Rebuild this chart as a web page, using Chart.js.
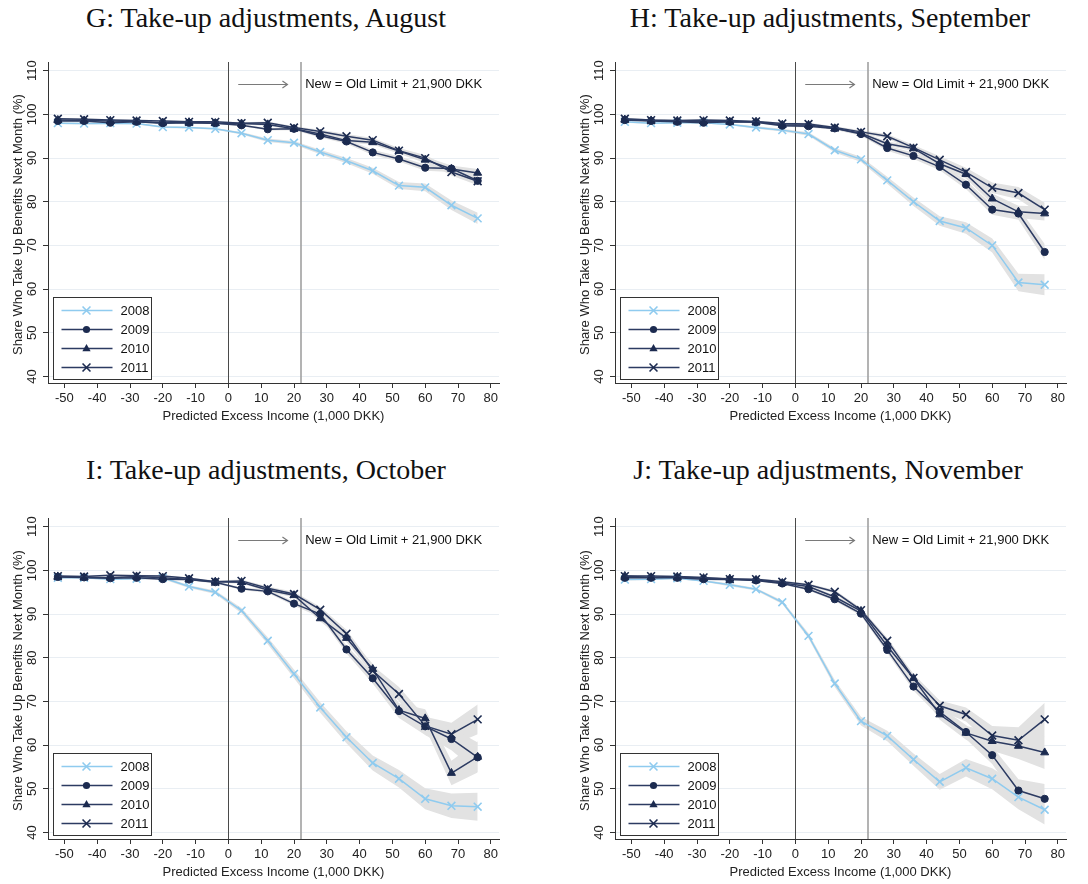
<!DOCTYPE html>
<html>
<head>
<meta charset="utf-8">
<script src="https://cdn.jsdelivr.net/npm/chart.js@4.4.1/dist/chart.umd.min.js"></script>
<style>
  body { margin: 0; background: #fff; width: 1088px; height: 884px; position: relative; overflow: hidden; }
  .panel { position: absolute; width: 544px; height: 430px; }
  .title { position: absolute; font-family: "Liberation Serif", "Times New Roman", serif; font-size: 28px; color: #111;
           white-space: nowrap; transform: translateX(-50%); line-height: 32px; }
</style>
</head>
<body>
<div class="title" style="left:266px;top:2px">G: Take-up adjustments, August</div>
<div class="title" style="left:830px;top:2px">H: Take-up adjustments, September</div>
<div class="title" style="left:266px;top:454px">I: Take-up adjustments, October</div>
<div class="title" style="left:828px;top:454px">J: Take-up adjustments, November</div>

<div class="panel" style="left:0;top:0"><canvas id="chartG" width="544" height="430"></canvas></div>
<div class="panel" style="left:544px;top:0"><canvas id="chartH" width="544" height="430"></canvas></div>
<div class="panel" style="left:0;top:456px"><canvas id="chartI" width="544" height="430"></canvas></div>
<div class="panel" style="left:544px;top:456px"><canvas id="chartJ" width="544" height="430"></canvas></div>

<script>
// ===== Data =====
const xVals  = [-52, -44, -36, -28, -20, -12, -4, 4, 12, 20, 28, 36, 44, 52, 60, 68, 76];
const xTicks = [-50, -40, -30, -20, -10, 0, 10, 20, 30, 40, 50, 60, 70, 80];
const yTicks = [40, 50, 60, 70, 80, 90, 100, 110];
const years  = ['2008', '2009', '2010', '2011'];

// G: August
const g2008 = [98.0, 97.9, 98.0, 97.9, 97.1, 97.0, 96.7, 95.7, 94.1, 93.5, 91.4, 89.4, 87.1, 83.7, 83.3, 79.2, 76.2];
const g2009 = [98.5, 98.5, 98.1, 98.3, 98.0, 98.1, 98.0, 97.5, 96.6, 96.7, 95.1, 93.8, 91.3, 89.8, 87.8, 87.6, 84.8];
const g2010 = [98.7, 98.6, 98.5, 98.4, 98.1, 98.2, 98.0, 97.9, 97.7, 96.7, 95.5, 94.0, 93.6, 91.6, 89.6, 87.5, 86.6];
const g2011 = [99.0, 98.9, 98.7, 98.6, 98.5, 98.3, 98.3, 98.0, 98.1, 97.0, 96.1, 95.0, 94.1, 91.7, 90.0, 86.8, 84.7];
// H: September
const h2008 = [98.3, 98.0, 98.1, 98.1, 97.7, 97.0, 96.4, 95.5, 91.8, 89.7, 84.9, 80.0, 75.6, 74.0, 70.0, 61.5, 61.0];
const h2009 = [98.7, 98.5, 98.3, 98.1, 98.3, 98.2, 97.4, 97.3, 96.8, 95.5, 92.3, 90.5, 88.0, 83.9, 78.2, 77.3, 68.5];
const h2010 = [98.8, 98.6, 98.5, 98.4, 98.3, 98.3, 97.6, 97.6, 96.8, 95.7, 93.3, 92.2, 88.7, 86.3, 80.7, 77.7, 77.3];
const h2011 = [99.0, 98.7, 98.6, 98.7, 98.6, 98.4, 97.9, 97.8, 97.0, 96.0, 95.0, 92.4, 89.6, 86.8, 83.2, 82.0, 78.2];
// I: October
const i2008 = [98.3, 98.3, 98.0, 98.1, 98.3, 96.3, 95.0, 90.8, 83.9, 76.3, 68.6, 61.8, 55.9, 52.3, 47.7, 46.1, 45.9];
const i2009 = [98.5, 98.4, 98.2, 98.3, 98.0, 97.9, 97.3, 95.8, 95.2, 92.4, 90.0, 81.9, 75.3, 67.8, 64.3, 61.4, 57.2];
const i2010 = [98.6, 98.4, 98.3, 98.6, 98.3, 97.9, 97.4, 97.3, 95.5, 94.3, 89.0, 84.5, 77.4, 68.0, 66.1, 53.6, 57.3];
const i2011 = [98.7, 98.6, 98.9, 98.8, 98.7, 98.2, 97.4, 97.6, 95.9, 94.6, 91.0, 85.5, 77.0, 71.7, 64.4, 62.5, 65.9];
// J: November
const j2008 = [97.9, 98.0, 98.2, 97.6, 96.7, 95.7, 92.7, 85.0, 74.1, 65.5, 62.1, 56.7, 51.6, 54.8, 52.3, 48.1, 45.2];
const j2009 = [98.3, 98.3, 98.3, 98.0, 97.9, 97.7, 97.0, 95.7, 93.4, 90.1, 81.8, 73.4, 67.6, 63.0, 57.7, 49.6, 47.7];
const j2010 = [98.7, 98.4, 98.5, 98.2, 98.1, 97.8, 97.1, 96.3, 93.9, 90.7, 82.7, 75.3, 67.0, 62.8, 60.9, 59.8, 58.3];
const j2011 = [98.7, 98.7, 98.6, 98.4, 98.0, 98.0, 97.4, 96.7, 95.1, 90.9, 83.9, 75.4, 69.0, 67.0, 62.2, 61.1, 65.9];

// confidence band half-widths
const ciG2008 = [0.2, 0.2, 0.2, 0.2, 0.2, 0.2, 0.2, 0.3, 0.4, 0.4, 0.5, 0.6, 0.7, 0.8, 0.9, 1.1, 1.3];
const ciG2009 = [0.2, 0.2, 0.2, 0.2, 0.2, 0.2, 0.2, 0.2, 0.3, 0.3, 0.4, 0.5, 0.6, 0.6, 0.7, 0.8, 0.9];
const ciG2010 = [0.2, 0.2, 0.2, 0.2, 0.2, 0.2, 0.2, 0.2, 0.3, 0.3, 0.4, 0.5, 0.5, 0.6, 0.7, 0.8, 0.9];
const ciG2011 = [0.2, 0.2, 0.2, 0.2, 0.2, 0.2, 0.2, 0.2, 0.3, 0.3, 0.4, 0.5, 0.5, 0.6, 0.7, 0.8, 0.9];
const ciH2008 = [0.2, 0.2, 0.2, 0.2, 0.2, 0.3, 0.3, 0.4, 0.5, 0.6, 0.8, 1.0, 1.1, 1.3, 1.6, 2.0, 2.4];
const ciH2009 = [0.2, 0.2, 0.2, 0.2, 0.2, 0.2, 0.2, 0.3, 0.3, 0.4, 0.6, 0.7, 0.8, 1.0, 1.2, 1.4, 1.8];
const ciH2010 = [0.2, 0.2, 0.2, 0.2, 0.2, 0.2, 0.2, 0.3, 0.3, 0.4, 0.5, 0.6, 0.8, 1.0, 1.2, 1.4, 1.6];
const ciH2011 = [0.2, 0.2, 0.2, 0.2, 0.2, 0.2, 0.2, 0.3, 0.3, 0.4, 0.5, 0.6, 0.8, 1.0, 1.2, 1.4, 1.6];
const ciI2008 = [0.2, 0.2, 0.2, 0.2, 0.3, 0.3, 0.4, 0.6, 0.8, 1.0, 1.2, 1.4, 1.7, 2.0, 2.4, 2.8, 3.2];
const ciI2009 = [0.2, 0.2, 0.2, 0.2, 0.2, 0.2, 0.3, 0.3, 0.4, 0.5, 0.7, 0.9, 1.2, 1.6, 2.0, 2.6, 3.4];
const ciI2010 = [0.2, 0.2, 0.2, 0.2, 0.2, 0.2, 0.3, 0.3, 0.4, 0.5, 0.7, 0.9, 1.2, 1.6, 2.1, 2.8, 3.6];
const ciI2011 = [0.2, 0.2, 0.2, 0.2, 0.2, 0.2, 0.3, 0.3, 0.4, 0.5, 0.7, 0.9, 1.2, 1.6, 2.1, 2.6, 3.4];
const ciJ2008 = [0.2, 0.2, 0.2, 0.2, 0.3, 0.3, 0.4, 0.6, 0.8, 1.0, 1.2, 1.4, 1.8, 2.0, 2.4, 2.8, 3.4];
const ciJ2009 = [0.2, 0.2, 0.2, 0.2, 0.2, 0.2, 0.3, 0.3, 0.4, 0.5, 0.7, 0.9, 1.2, 1.6, 2.0, 2.6, 3.4];
const ciJ2010 = [0.2, 0.2, 0.2, 0.2, 0.2, 0.2, 0.3, 0.3, 0.4, 0.5, 0.7, 0.9, 1.2, 1.6, 2.2, 3.0, 3.8];
const ciJ2011 = [0.2, 0.2, 0.2, 0.2, 0.2, 0.2, 0.3, 0.3, 0.4, 0.5, 0.7, 0.9, 1.2, 1.6, 2.2, 3.0, 3.8];

const xTitle = 'Predicted Excess Income (1,000 DKK)';
const yTitle = 'Share Who Take Up Benefits Next Month (%)';
const noteText = 'New = Old Limit + 21,900 DKK';
const oldLimit = 0;
const newLimit = 22;

// ===== Style =====
const lightBlue = '#8fcbef';
const navy      = '#1c2b50';
const navyLine  = '#2c3b62';
const bandColor = '#e2e2e2';
const sansFont  = '"Liberation Sans", Arial, sans-serif';
const seriesStyle = [
  { color: lightBlue, line: lightBlue, shape: 'crossRot', radius: 5.5, bw: 1.6 },
  { color: navy,      line: navyLine,  shape: 'circle',   radius: 3.6, bw: 1 },
  { color: navy,      line: navyLine,  shape: 'triangle', radius: 4.6, bw: 1 },
  { color: navy,      line: navyLine,  shape: 'crossRot', radius: 5.5, bw: 1.6 }
];

// ===== Helpers =====
function drawMarker(ctx, shape, r, cx, cy) {
  ctx.beginPath();
  if (shape === 'circle') {
    ctx.arc(cx, cy, r, 0, Math.PI * 2);
    ctx.fill();
  } else if (shape === 'triangle') {
    ctx.moveTo(cx, cy - r);
    ctx.lineTo(cx + r * 0.9, cy + r * 0.6);
    ctx.lineTo(cx - r * 0.9, cy + r * 0.6);
    ctx.closePath();
    ctx.fill();
  } else {
    const d = r * 0.72;
    ctx.moveTo(cx - d, cy - d); ctx.lineTo(cx + d, cy + d);
    ctx.moveTo(cx + d, cy - d); ctx.lineTo(cx - d, cy + d);
    ctx.stroke();
  }
}

const decorPlugin = {
  id: 'decor',
  beforeDatasetsDraw(chart) {
    const { ctx, chartArea: a, scales: { x, y } } = chart;
    ctx.save();
    // threshold lines
    let px = Math.round(x.getPixelForValue(oldLimit)) + 0.5;
    ctx.strokeStyle = '#4a4a4a'; ctx.lineWidth = 1;
    ctx.beginPath(); ctx.moveTo(px, a.top); ctx.lineTo(px, a.bottom); ctx.stroke();
    px = Math.round(x.getPixelForValue(newLimit));
    ctx.strokeStyle = '#a0a0a0'; ctx.lineWidth = 1.6;
    ctx.beginPath(); ctx.moveTo(px, a.top); ctx.lineTo(px, a.bottom); ctx.stroke();
    // arrow + note
    const ay = Math.round(y.getPixelForValue(107)) + 0.5;
    const x0 = x.getPixelForValue(3), x1 = x.getPixelForValue(18);
    ctx.strokeStyle = '#7a7a7a'; ctx.lineWidth = 1.2;
    ctx.beginPath(); ctx.moveTo(x0, ay); ctx.lineTo(x1, ay); ctx.stroke();
    ctx.beginPath(); ctx.moveTo(x1 - 5, ay - 3.5); ctx.lineTo(x1, ay); ctx.lineTo(x1 - 5, ay + 3.5); ctx.stroke();
    ctx.fillStyle = '#111';
    ctx.font = '13px ' + sansFont;
    ctx.textBaseline = 'middle';
    ctx.textAlign = 'left';
    ctx.fillText(noteText, x.getPixelForValue(23.4), ay);
    ctx.restore();
  },
  afterDraw(chart) {
    const { ctx, chartArea: a } = chart;
    ctx.save();
    // y axis title
    ctx.font = '13px ' + sansFont;
    ctx.fillStyle = '#222';
    ctx.textAlign = 'center';
    ctx.textBaseline = 'middle';
    ctx.translate(a.left - 30, (a.top + a.bottom) / 2 + 2);
    ctx.rotate(-Math.PI / 2);
    ctx.fillText(yTitle, 0, 0);
    ctx.setTransform(1, 0, 0, 1, 0, 0);
    // legend
    const bx = a.left + 5.5, bw = 98, bh = 82;
    const by = Math.round(a.bottom - 4 - bh) + 0.5;
    ctx.fillStyle = '#fff';
    ctx.fillRect(bx, by, bw, bh);
    ctx.strokeStyle = '#333'; ctx.lineWidth = 1;
    ctx.strokeRect(bx, by, bw, bh);
    ctx.textAlign = 'left';
    years.forEach((yr, k) => {
      const s = seriesStyle[k];
      const cy = by + 13 + k * 19;
      ctx.strokeStyle = s.line; ctx.lineWidth = 1.5;
      ctx.beginPath(); ctx.moveTo(bx + 8, cy); ctx.lineTo(bx + 59, cy); ctx.stroke();
      ctx.fillStyle = s.color; ctx.strokeStyle = s.color; ctx.lineWidth = s.bw;
      drawMarker(ctx, s.shape, s.radius, bx + 33, cy);
      ctx.fillStyle = '#111';
      ctx.fillText(yr, bx + 67, cy + 0.5);
    });
    ctx.restore();
  }
};

function buildDatasets(vals, cis) {
  const bands = [], lines = [];
  vals.forEach((v, k) => {
    const ci = cis[k];
    bands.push({ data: xVals.map((x, i) => ({ x, y: v[i] + ci[i] })), fill: '+1', backgroundColor: bandColor,
                 borderWidth: 0, pointRadius: 0, order: 10 });
    bands.push({ data: xVals.map((x, i) => ({ x, y: v[i] - ci[i] })), fill: false,
                 borderWidth: 0, pointRadius: 0, order: 10 });
    const s = seriesStyle[k];
    lines.push({
      label: years[k],
      data: xVals.map((x, i) => ({ x, y: v[i] })),
      borderColor: s.line, borderWidth: 1.5, tension: 0, fill: false,
      pointStyle: s.shape, pointRadius: s.radius, pointBorderWidth: s.bw,
      pointBackgroundColor: s.color, pointBorderColor: s.color, order: 4 - k
    });
  });
  return bands.concat(lines);
}

function renderPanel(id, vals, cis, padLeft) {
  const font = { family: sansFont, size: 13 };
  new Chart(document.getElementById(id).getContext('2d'), {
    type: 'line',
    data: { datasets: buildDatasets(vals, cis) },
    options: {
      responsive: false, animation: false,
      layout: { padding: { top: 62, right: 45 - padLeft, left: padLeft, bottom: 0 } },
      plugins: {
        legend: { display: false }, tooltip: { enabled: false },
        filler: { drawTime: 'beforeDatasetsDraw' }
      },
      scales: {
        x: {
          type: 'linear', min: -55, max: 82.5,
          afterBuildTicks: s => { s.ticks = xTicks.map(v => ({ value: v })); },
          afterFit: s => { s.height = 47; },
          grid: { drawOnChartArea: false, tickLength: 5, tickColor: '#333' },
          border: { color: '#333' },
          ticks: { font, color: '#222', padding: 3, maxRotation: 0, minRotation: 0 },
          title: { display: true, text: xTitle, font, color: '#222', padding: { top: 0, bottom: 6 } }
        },
        y: {
          type: 'linear', min: 38.5, max: 112,
          afterBuildTicks: s => { s.ticks = yTicks.map(v => ({ value: v })); },
          afterFit: s => { s.width = 48; },
          grid: { color: '#e9eef3', tickLength: 5, tickColor: '#333' },
          border: { color: '#333' },
          ticks: { font, color: '#222', minRotation: 90, maxRotation: 90, crossAlign: 'center', padding: 0 },
          title: { display: false }
        }
      }
    },
    plugins: [decorPlugin]
  });
}

// ===== Wiring =====
renderPanel('chartG', [g2008, g2009, g2010, g2011], [ciG2008, ciG2009, ciG2010, ciG2011], 0);
renderPanel('chartH', [h2008, h2009, h2010, h2011], [ciH2008, ciH2009, ciH2010, ciH2011], 23);
renderPanel('chartI', [i2008, i2009, i2010, i2011], [ciI2008, ciI2009, ciI2010, ciI2011], 0);
renderPanel('chartJ', [j2008, j2009, j2010, j2011], [ciJ2008, ciJ2009, ciJ2010, ciJ2011], 23);
</script>
</body>
</html>
